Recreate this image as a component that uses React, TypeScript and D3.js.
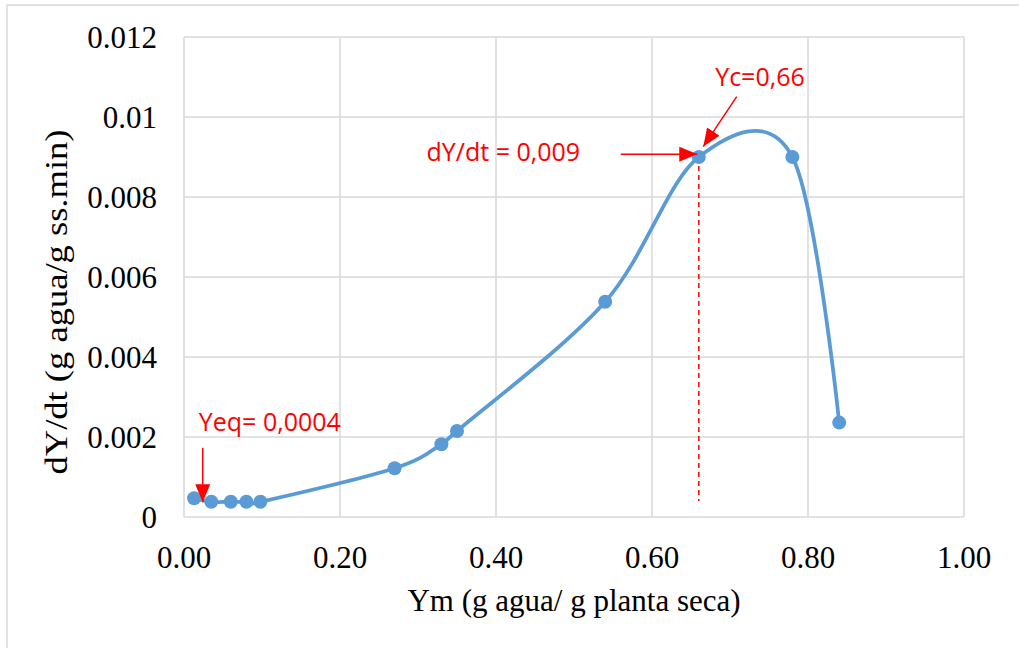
import React, { useEffect, useRef } from "react";
import * as d3 from "d3";

// Ym (g agua / g planta seca) vs dY/dt
const ymValues = [0.013, 0.035, 0.06, 0.08, 0.098, 0.27, 0.33, 0.35, 0.54, 0.66, 0.78, 0.84];
const rateValues = [0.00047, 0.00038, 0.00038, 0.00038, 0.00038, 0.00122, 0.00182, 0.00215, 0.00538, 0.009, 0.009, 0.00236];

const xTicks = [0, 0.2, 0.4, 0.6, 0.8, 1.0];
const yTicks = [0, 0.002, 0.004, 0.006, 0.008, 0.01, 0.012];
const yTickLabels = ["0", "0.002", "0.004", "0.006", "0.008", "0.01", "0.012"];

const xTitle = "Ym (g agua/ g planta seca)";
const yTitle = "dY/dt (g agua/g ss.min)";

// annotations, in data units
const notes = [
  { text: "Yeq= 0,0004", x: 0.019, y: 0.00215 },
  { text: "dY/dt = 0,009", x: 0.311, y: 0.00891 },
  { text: "Yc=0,66", x: 0.681, y: 0.010775 },
];
const arrows = [
  { x1: 0.024, y1: 0.00173, x2: 0.024, y2: 0.00037 },
  { x1: 0.56, y1: 0.00907, x2: 0.658, y2: 0.00907 },
  { x1: 0.7086, y1: 0.01051, x2: 0.6658, y2: 0.00926 },
];
const criticalYm = 0.66;
const criticalRate = 0.009;
const eqRate = 0.0004;

const W = 1019;
const H = 648;
const margin = { top: 37, right: 55, bottom: 131, left: 184 };

const App = () => {
  const svgRef = useRef(null);

  useEffect(() => {
    const svg = d3.select(svgRef.current);
    svg.selectAll("*").remove();

    const x = d3.scaleLinear().domain([0, 1]).range([margin.left, W - margin.right]);
    const y = d3.scaleLinear().domain([0, 0.012]).range([H - margin.bottom, margin.top]);

    const grid = "#d9d9d9";
    const serif = "'Liberation Serif', 'Times New Roman', serif";
    const sans = "'Open Sans', 'Liberation Sans', sans-serif";

    // outer chart border (runs off the right and bottom)
    svg.append("rect")
      .attr("x", 7).attr("y", 5)
      .attr("width", W + 20).attr("height", H + 20)
      .attr("fill", "white")
      .attr("stroke", grid).attr("stroke-width", 1.5);

    svg.append("defs").append("marker")
      .attr("id", "redhead")
      .attr("viewBox", "0 -8 18 16")
      .attr("refX", 18).attr("refY", 0)
      .attr("markerUnits", "userSpaceOnUse")
      .attr("markerWidth", 18).attr("markerHeight", 16)
      .attr("orient", "auto")
      .append("path")
        .attr("d", "M0,-7.5L18,0L0,7.5Z")
        .attr("fill", "#ff0000");

    // gridlines
    svg.append("g")
      .selectAll("line")
      .data(yTicks)
      .join("line")
        .attr("x1", x(0)).attr("x2", x(1))
        .attr("y1", d => y(d)).attr("y2", d => y(d))
        .attr("stroke", grid).attr("stroke-width", 1.5);

    svg.append("g")
      .selectAll("line")
      .data(xTicks)
      .join("line")
        .attr("x1", d => x(d)).attr("x2", d => x(d))
        .attr("y1", y(0)).attr("y2", y(0.012))
        .attr("stroke", grid).attr("stroke-width", 1.5);

    // tick labels
    svg.append("g")
      .selectAll("text")
      .data(yTicks)
      .join("text")
        .text((d, i) => yTickLabels[i])
        .attr("x", margin.left - 27)
        .attr("y", d => y(d))
        .attr("dy", "0.34em")
        .attr("text-anchor", "end")
        .attr("font-family", serif)
        .attr("font-size", 31)
        .attr("fill", "#000");

    svg.append("g")
      .selectAll("text")
      .data(xTicks)
      .join("text")
        .text(d => d3.format(".2f")(d))
        .attr("x", d => x(d))
        .attr("y", y(0) + 51)
        .attr("text-anchor", "middle")
        .attr("font-family", serif)
        .attr("font-size", 31)
        .attr("fill", "#000");

    // axis titles
    svg.append("text")
      .text(xTitle)
      .attr("x", (x(0) + x(1)) / 2)
      .attr("y", y(0) + 94)
      .attr("text-anchor", "middle")
      .attr("font-family", serif)
      .attr("font-size", 31);

    // the y title is stretched along its length in the original
    svg.append("text")
      .text(yTitle)
      .attr("transform", `translate(67,${(y(0) + y(0.012)) / 2 + 25}) rotate(-90)`)
      .attr("text-anchor", "middle")
      .attr("textLength", 345)
      .attr("lengthAdjust", "spacingAndGlyphs")
      .attr("font-family", serif)
      .attr("font-size", 31);

    // dashed marker line at Yc
    svg.append("line")
      .attr("x1", x(criticalYm)).attr("x2", x(criticalYm))
      .attr("y1", y(criticalRate)).attr("y2", y(eqRate))
      .attr("stroke", "#ff0000").attr("stroke-width", 1.5)
      .attr("stroke-dasharray", "5,4");

    // smoothed series line
    const pts = ymValues.map((v, i) => [v, rateValues[i]]);
    const line = d3.line()
      .x(d => x(d[0]))
      .y(d => y(d[1]))
      .curve(d3.curveCatmullRom.alpha(0));

    svg.append("path")
      .datum(pts)
      .attr("d", line)
      .attr("fill", "none")
      .attr("stroke", "#5b9bd5")
      .attr("stroke-width", 3.75)
      .attr("stroke-linecap", "round");

    svg.append("g")
      .selectAll("circle")
      .data(pts)
      .join("circle")
        .attr("cx", d => x(d[0]))
        .attr("cy", d => y(d[1]))
        .attr("r", 7)
        .attr("fill", "#5b9bd5");

    // red annotations
    svg.append("g")
      .selectAll("line")
      .data(arrows)
      .join("line")
        .attr("x1", d => x(d.x1)).attr("y1", d => y(d.y1))
        .attr("x2", d => x(d.x2)).attr("y2", d => y(d.y2))
        .attr("stroke", "#ff0000").attr("stroke-width", 1.5)
        .attr("marker-end", "url(#redhead)");

    svg.append("g")
      .selectAll("text")
      .data(notes)
      .join("text")
        .text(d => d.text)
        .attr("x", d => x(d.x))
        .attr("y", d => y(d.y))
        .attr("font-family", sans)
        .attr("font-size", 25)
        .attr("fill", "#ff0000");
  }, []);

  return (
    <div style={{ position: "absolute", left: 0, top: 0 }}>
      <svg ref={svgRef} width={W} height={H} style={{ display: "block", background: "white" }}></svg>
    </div>
  );
};

export default App;
